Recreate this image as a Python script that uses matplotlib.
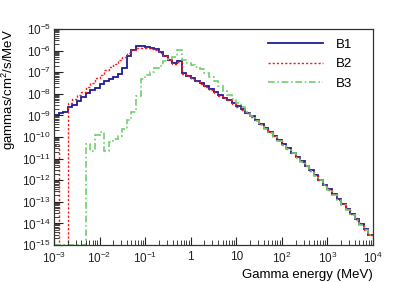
import numpy as np
import matplotlib
matplotlib.use("Agg")
import matplotlib.pyplot as plt

plt.rcParams['font.family'] = ['Liberation Sans', 'DejaVu Sans']
plt.rcParams['mathtext.default'] = 'regular'

# histogram binning: 10 log bins per decade from 1e-3 to 1e4 MeV
e_min_exp, e_max_exp, bins_per_decade = -3, 4, 10

# bin contents as log10(gammas/cm2/s/MeV); nan = empty bin
b1_log = [-8.98, -8.90, -8.83, -8.62, -8.53, -8.33, -8.13, -7.95, -7.82, -7.72,
          -7.55, -7.40, -7.31, -7.20, -7.07, -6.82, -6.26, -5.95, -5.80, -5.79,
          -5.83, -5.87, -5.93, -6.05, -6.23, -6.43, -6.58, -6.48, -7.05, -7.16,
          -7.28, -7.40, -7.51, -7.66, -7.79, -7.93, -8.06, -8.18, -8.30, -8.44,
          -8.57, -8.72, -8.87, -9.05, -9.21, -9.38, -9.57, -9.76, -9.95, -10.14,
          -10.34, -10.53, -10.73, -10.92, -11.12, -11.33, -11.54, -11.76, -11.98, -12.20,
          -12.42, -12.65, -12.88, -13.10, -13.33, -13.56, -13.80, -14.04, -14.28, -14.53]

b2_log = [-10.35, np.nan, np.nan, -8.44, -8.26, -8.06, -7.90, -7.67, -7.48, -7.28,
          -7.13, -6.92, -6.77, -6.60, -6.45, -6.28, -6.12, -5.97, -5.88, -5.87,
          -5.90, -5.93, -5.98, -6.10, -6.25, -6.45, -6.60, -6.52, -7.08, -7.18,
          -7.30, -7.42, -7.53, -7.68, -7.81, -7.95, -8.08, -8.19, -8.31, -8.46,
          -8.59, -8.73, -8.89, -9.06, -9.23, -9.39, -9.59, -9.77, -9.97, -10.15,
          -10.36, -10.54, -10.75, -10.93, -11.14, -11.34, -11.56, -11.77, -12.00, -12.21,
          -12.44, -12.66, -12.90, -13.11, -13.35, -13.57, -13.82, -14.05, -14.30, -14.54]

b3_log = [np.nan, np.nan, np.nan, np.nan, np.nan, np.nan, np.nan, -10.33, -10.63, -9.90,
          -9.78, -10.63, -10.25, -10.08, -9.95, -9.65, -9.20, -8.85, -8.10, -7.30,
          -7.15, -7.00, -6.80, -6.70, -6.50, -6.40, -6.28, -5.95, -6.45, -6.58,
          -6.66, -6.74, -6.84, -7.02, -7.20, -7.42, -7.65, -7.86, -8.05, -8.22,
          -8.42, -8.62, -8.83, -9.05, -9.24, -9.43, -9.62, -9.80, -9.98, -10.17,
          -10.37, -10.56, -10.76, -10.95, -11.15, -11.36, -11.57, -11.79, -12.01, -12.23,
          -12.45, -12.68, -12.91, -13.13, -13.36, -13.59, -13.83, -14.07, -14.31, -14.56]

series_names = ['B1', 'B2', 'B3']

x_ticks = [1e-3, 1e-2, 1e-1, 1, 10, 1e2, 1e3, 1e4]
x_ticklabels = ['$10^{-3}$', '$10^{-2}$', '$10^{-1}$', '1', '10',
                '$10^{2}$', '$10^{3}$', '$10^{4}$']
y_exps = list(range(-15, -4))

y_floor = 1e-15


def to_values(logs):
    v = np.power(10.0, np.array(logs, dtype=float))
    v[np.isnan(v)] = y_floor   # empty bins drawn on the axis floor, like ROOT
    return v


def main():
    edges = np.logspace(e_min_exp, e_max_exp,
                        (e_max_exp - e_min_exp) * bins_per_decade + 1)

    fig = plt.figure(figsize=(4.15, 2.82), dpi=100)
    ax = fig.add_axes([54/415, 1 - 245/282, 319/415, 216/282])

    styles = [
        dict(color='#1c1c96', lw=1.3, ls='-'),
        dict(color='#ff1a1a', lw=1.0, ls=(0, (1.6, 1.4))),
        dict(color='#6fcf6f', lw=1.2, ls=(0, (4, 1.6, 1, 1.6))),
    ]
    for name, logs, st in zip(series_names, [b1_log, b2_log, b3_log], styles):
        ax.stairs(to_values(logs), edges, baseline=None, label=name, **st)

    ax.set_xscale('log')
    ax.set_yscale('log')
    ax.set_xlim(1e-3, 1e4)
    ax.set_ylim(1e-15, 1e-5)

    ax.set_xticks(x_ticks)
    ax.set_xticklabels(x_ticklabels)
    ax.set_yticks([10.0**e for e in y_exps])
    ax.set_yticklabels(['$10^{%d}$' % e for e in y_exps])
    ax.xaxis.set_minor_locator(matplotlib.ticker.LogLocator(base=10, subs=np.arange(2, 10), numticks=50))
    ax.yaxis.set_minor_locator(matplotlib.ticker.LogLocator(base=10, subs=np.arange(2, 10), numticks=50))
    ax.xaxis.set_minor_formatter(matplotlib.ticker.NullFormatter())
    ax.yaxis.set_minor_formatter(matplotlib.ticker.NullFormatter())

    ax.tick_params(which='both', direction='in', top=False, right=False,
                   labelsize=8.5, colors='#222222')
    ax.tick_params(axis='x', which='major', length=6, pad=4)
    ax.tick_params(axis='x', which='minor', length=3.5)
    ax.tick_params(axis='y', which='major', length=6.5, pad=2)
    ax.tick_params(axis='y', which='minor', length=3.5)
    for sp in ax.spines.values():
        sp.set_color('#333333')
        sp.set_linewidth(0.9)

    ax.set_xlabel('Gamma energy (MeV)', loc='right', fontsize=9.5, labelpad=2)
    ax.set_ylabel('gammas/cm$^{2}$/s/MeV', loc='top', fontsize=9.5, labelpad=3)

    ax.legend(loc='upper left', bbox_to_anchor=(0.67, 0.955), frameon=False,
              fontsize=9.5, handlelength=4.2, handletextpad=1.0,
              labelspacing=0.55, borderpad=0, borderaxespad=0)

    fig.savefig('out.png', dpi=100)


if __name__ == "__main__":
    main()
